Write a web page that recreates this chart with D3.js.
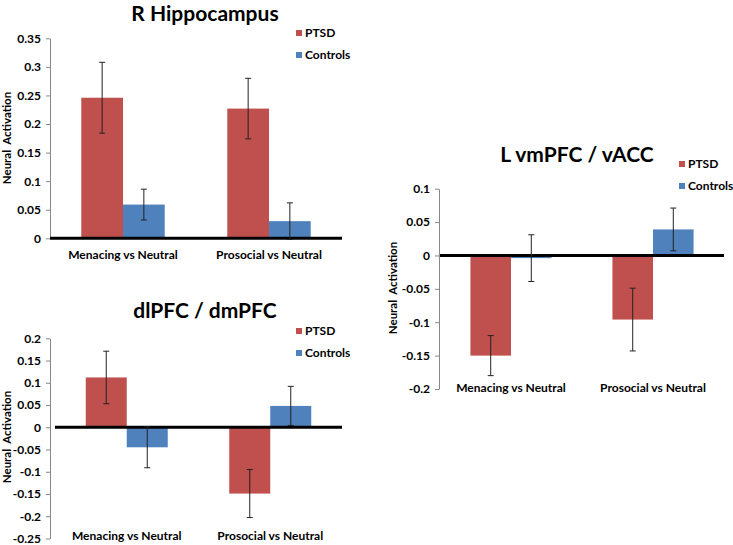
<!DOCTYPE html>
<html><head><meta charset="utf-8">
<script src="https://cdn.jsdelivr.net/npm/d3@7"></script>
<style>
html,body{margin:0;padding:0;background:#fff;}
svg{display:block;}
text{font-family:Lato,"Open Sans",sans-serif;font-weight:bold;fill:#000;}
</style></head>
<body>
<svg id="chart" width="733" height="545"></svg>
<script>
const categories = ["Menacing vs Neutral", "Prosocial vs Neutral"];
const seriesNames = ["PTSD", "Controls"];
const seriesColors = ["#C0504D", "#4F81BD"];

// R Hippocampus
const hippoPTSD = [0.246, 0.227];
const hippoPTSDErr = [0.062, 0.053];
const hippoControls = [0.059, 0.030];
const hippoControlsErr = [0.027, 0.032];
const hippoTicks = [0, 0.05, 0.1, 0.15, 0.2, 0.25, 0.3, 0.35];

// dlPFC / dmPFC
const dlpfcPTSD = [0.112, -0.149];
const dlpfcPTSDErr = [0.059, 0.054];
const dlpfcControls = [-0.045, 0.048];
const dlpfcControlsErr = [0.046, 0.044];
const dlpfcTicks = [-0.25, -0.2, -0.15, -0.1, -0.05, 0, 0.05, 0.1, 0.15, 0.2];

// L vmPFC / vACC
const vmpfcPTSD = [-0.150, -0.096];
const vmpfcPTSDErr = [0.030, 0.047];
const vmpfcControls = [-0.004, 0.039];
const vmpfcControlsErr = [0.035, 0.032];
const vmpfcTicks = [-0.2, -0.15, -0.1, -0.05, 0, 0.05, 0.1];

const yLabel = "Neural  Activation";

const svg = d3.select("#chart");

function fmt(d){ return String(Math.round(d*100)/100); }

function panel(cfg){
  const g = svg.append("g");
  const y = d3.scaleLinear().domain(cfg.domain).range(cfg.yRange);
  const x0 = d3.scaleBand().domain(categories).range(cfg.xRange)
    .paddingInner(1.5/3.5).paddingOuter(0.75/3.5);
  const x1 = d3.scaleBand().domain(seriesNames).range([0, x0.bandwidth()]);

  // y axis
  const ax = g.append("g").attr("transform", `translate(${cfg.axisX},0)`)
    .call(d3.axisLeft(y).tickValues(cfg.ticks).tickFormat(fmt).tickSize(4).tickSizeOuter(0).tickPadding(5));
  ax.select(".domain").attr("stroke", "#888").attr("stroke-width", 1);
  ax.selectAll(".tick line").attr("stroke", "#888");
  ax.selectAll(".tick text").attr("font-size", 12).attr("font-family", "Lato").attr("font-weight", "bold").attr("fill", "#000");

  const data = [];
  categories.forEach((c, i) => {
    cfg.series.forEach((s, j) => {
      data.push({cat: c, name: seriesNames[j], v: s.v[i], e: s.e[i], color: seriesColors[j]});
    });
  });

  g.selectAll("rect.bar").data(data).enter().append("rect")
    .attr("class", "bar")
    .attr("x", d => x0(d.cat) + x1(d.name))
    .attr("width", x1.bandwidth())
    .attr("y", d => y(Math.max(0, d.v)))
    .attr("height", d => Math.abs(y(d.v) - y(0)))
    .attr("fill", d => d.color);

  // zero line
  g.append("line").attr("x1", cfg.xRange[0]).attr("x2", cfg.xRange[1])
    .attr("y1", y(0)).attr("y2", y(0)).attr("stroke", "#000").attr("stroke-width", 3);

  // error bars
  const eb = g.selectAll("g.err").data(data).enter().append("g").attr("class", "err");
  const cx = d => x0(d.cat) + x1(d.name) + x1.bandwidth()/2;
  eb.append("line").attr("x1", cx).attr("x2", cx)
    .attr("y1", d => y(d.v + d.e)).attr("y2", d => y(d.v - d.e))
    .attr("stroke", "#222").attr("stroke-width", 1);
  [1, -1].forEach(sg => {
    eb.append("line").attr("x1", d => cx(d) - 3).attr("x2", d => cx(d) + 3)
      .attr("y1", d => y(d.v + sg*d.e)).attr("y2", d => y(d.v + sg*d.e))
      .attr("stroke", "#222").attr("stroke-width", 1);
  });

  // category labels
  g.selectAll("text.cat").data(categories).enter().append("text")
    .attr("x", d => x0(d) + x0.bandwidth()/2).attr("y", cfg.catY)
    .attr("text-anchor", "middle").attr("font-size", 12).text(d => d);

  // title
  g.append("text").attr("x", cfg.titleX).attr("y", cfg.titleY)
    .attr("text-anchor", "middle").attr("font-size", 21).text(cfg.title);

  // y label
  g.append("text").attr("transform", `translate(${cfg.yLabX},${cfg.yLabY}) rotate(-90)`)
    .attr("text-anchor", "middle").attr("font-size", 11.5).attr("xml:space", "preserve")
    .style("white-space", "pre").text(yLabel);

  // legend
  seriesNames.forEach((s, j) => {
    const ly = cfg.legY[j];
    g.append("rect").attr("x", cfg.legX).attr("y", ly - 3).attr("width", 6).attr("height", 6).attr("fill", seriesColors[j]);
    g.append("text").attr("x", cfg.legX + 9).attr("y", ly + 4).attr("font-size", 12).text(s);
  });
}

panel({
  title: "R Hippocampus", titleX: 205, titleY: 21,
  domain: [0, 0.35], yRange: [238.3, 38.3], ticks: hippoTicks,
  axisX: 50, xRange: [50, 342],
  series: [{v: hippoPTSD, e: hippoPTSDErr}, {v: hippoControls, e: hippoControlsErr}],
  catY: 259, yLabX: 11, yLabY: 138, legX: 296, legY: [33, 55]
});

panel({
  title: "dlPFC / dmPFC", titleX: 205, titleY: 318,
  domain: [-0.25, 0.2], yRange: [538.5, 338.3], ticks: dlpfcTicks,
  axisX: 50, xRange: [55, 342],
  series: [{v: dlpfcPTSD, e: dlpfcPTSDErr}, {v: dlpfcControls, e: dlpfcControlsErr}],
  catY: 540, yLabX: 11, yLabY: 437, legX: 296, legY: [331, 353]
});

panel({
  title: "L vmPFC / vACC", titleX: 577, titleY: 162,
  domain: [-0.2, 0.1], yRange: [389, 188.7], ticks: vmpfcTicks,
  axisX: 439, xRange: [440, 724],
  series: [{v: vmpfcPTSD, e: vmpfcPTSDErr}, {v: vmpfcControls, e: vmpfcControlsErr}],
  catY: 392, yLabX: 397, yLabY: 288, legX: 679, legY: [164, 186]
});
</script>
</body></html>
